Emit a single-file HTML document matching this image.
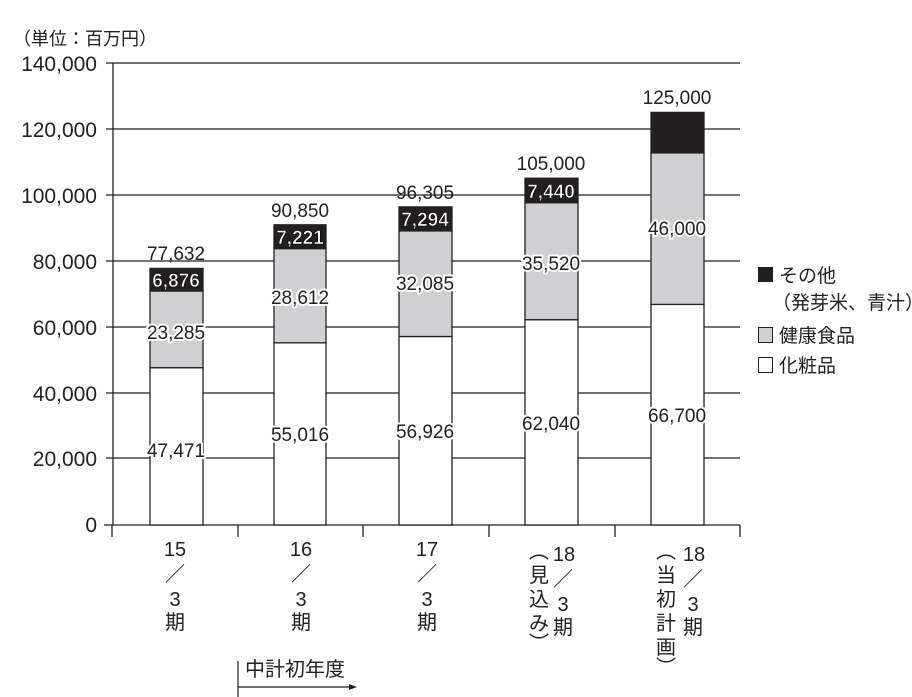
<!DOCTYPE html>
<html><head><meta charset="utf-8"><style>
html,body{margin:0;padding:0;background:#fff}
svg{display:block}
text{font-family:"Liberation Sans","Noto Sans CJK JP",sans-serif;fill:#222}
.t{font-size:21px;text-anchor:end}
.v{font-size:19px;text-anchor:middle}
.h{font-size:19px;text-anchor:middle;stroke:#fff;stroke-width:4;paint-order:stroke;stroke-linejoin:round}
.w{font-size:19px;text-anchor:middle;fill:#fff;font-weight:bold;stroke:#000;stroke-width:0.6}
.j{font-size:20px;text-anchor:middle}
.l{font-size:19px}
</style></head><body>
<svg width="912" height="697" viewBox="0 0 912 697">
<text x="13" y="45" style="font-size:18px">（単位：百万円）</text>
<g stroke="#222" stroke-width="1.3">
<line x1="106" y1="63" x2="740" y2="63"/>
<line x1="106" y1="129" x2="740" y2="129"/>
<line x1="106" y1="195" x2="740" y2="195"/>
<line x1="106" y1="261" x2="740" y2="261"/>
<line x1="106" y1="327" x2="740" y2="327"/>
<line x1="106" y1="393" x2="740" y2="393"/>
<line x1="106" y1="458" x2="740" y2="458"/>
<line x1="104" y1="525" x2="740" y2="525"/>
<line x1="113" y1="63" x2="113" y2="525"/>
<line x1="112" y1="525" x2="112" y2="537"/>
<line x1="238" y1="525" x2="238" y2="537"/>
<line x1="363" y1="525" x2="363" y2="537"/>
<line x1="489" y1="525" x2="489" y2="537"/>
<line x1="615" y1="525" x2="615" y2="537"/>
<line x1="740" y1="525" x2="740" y2="537"/>
</g>
<text class="t" x="97" y="71">140,000</text>
<text class="t" x="97" y="137">120,000</text>
<text class="t" x="97" y="203">100,000</text>
<text class="t" x="97" y="269">80,000</text>
<text class="t" x="97" y="335">60,000</text>
<text class="t" x="97" y="401">40,000</text>
<text class="t" x="97" y="466">20,000</text>
<text class="t" x="97" y="532">0</text>
<g stroke="#222" stroke-width="1.3">
<rect x="150" y="367.7" width="53" height="157.3" fill="#fff"/>
<rect x="150" y="291" width="53" height="76.7" fill="#d0d0d2"/>
<rect x="150" y="268.4" width="53" height="22.6" fill="#231f20"/>
<rect x="274" y="342.8" width="52" height="182.2" fill="#fff"/>
<rect x="274" y="248.6" width="52" height="94.2" fill="#d0d0d2"/>
<rect x="274" y="224.8" width="52" height="23.8" fill="#231f20"/>
<rect x="399" y="336.5" width="53" height="188.5" fill="#fff"/>
<rect x="399" y="230.9" width="53" height="105.6" fill="#d0d0d2"/>
<rect x="399" y="206.9" width="53" height="24" fill="#231f20"/>
<rect x="525" y="319.7" width="53" height="205.3" fill="#fff"/>
<rect x="525" y="202.7" width="53" height="117" fill="#d0d0d2"/>
<rect x="525" y="178.2" width="53" height="24.5" fill="#231f20"/>
<rect x="651" y="304.4" width="53" height="220.6" fill="#fff"/>
<rect x="651" y="152.9" width="53" height="151.5" fill="#d0d0d2"/>
<rect x="651" y="112.4" width="53" height="40.5" fill="#231f20"/>
</g>
<text class="v" x="176" y="260">77,632</text>
<text class="v" x="300" y="217">90,850</text>
<text class="v" x="425" y="199">96,305</text>
<text class="v" x="551" y="170">105,000</text>
<text class="v" x="677" y="104">125,000</text>
<text class="w" x="176" y="287">6,876</text>
<text class="w" x="300" y="244">7,221</text>
<text class="w" x="425" y="226">7,294</text>
<text class="w" x="551" y="198">7,440</text>
<text class="h" x="176" y="339">23,285</text>
<text class="h" x="300" y="304">28,612</text>
<text class="h" x="425" y="290">32,085</text>
<text class="h" x="551" y="270">35,520</text>
<text class="h" x="677" y="235">46,000</text>
<text class="h" x="176" y="457">47,471</text>
<text class="h" x="300" y="441">55,016</text>
<text class="h" x="425" y="438">56,926</text>
<text class="h" x="551" y="430">62,040</text>
<text class="h" x="677" y="422">66,700</text>
<text class="j" x="175" y="556">15</text><text class="j" x="175" y="581">／</text><text class="j" x="175" y="606">3</text><text class="j" x="175" y="629">期</text>
<text class="j" x="301" y="556">16</text><text class="j" x="301" y="581">／</text><text class="j" x="301" y="606">3</text><text class="j" x="301" y="629">期</text>
<text class="j" x="427" y="556">17</text><text class="j" x="427" y="581">／</text><text class="j" x="427" y="606">3</text><text class="j" x="427" y="629">期</text>
<text class="j" x="564" y="561">18</text><text class="j" x="563" y="586">／</text><text class="j" x="563" y="611">3</text><text class="j" x="563" y="634">期</text>
<text class="j" x="539" y="558">︵</text><text class="j" x="539" y="582">見</text><text class="j" x="539" y="606">込</text><text class="j" x="539" y="630">み</text><text class="j" x="539" y="650">︶</text>
<text class="j" x="694" y="561">18</text><text class="j" x="693" y="586">／</text><text class="j" x="693" y="611">3</text><text class="j" x="693" y="634">期</text>
<text class="j" x="666" y="558">︵</text><text class="j" x="666" y="582">当</text><text class="j" x="666" y="606">初</text><text class="j" x="666" y="630">計</text><text class="j" x="666" y="654">画</text><text class="j" x="666" y="674">︶</text>
<text class="l" x="245" y="676" style="font-size:20px">中計初年度</text>
<line x1="238" y1="661" x2="238" y2="701" stroke="#222" stroke-width="1.2"/>
<line x1="238" y1="687" x2="352" y2="687" stroke="#222" stroke-width="1.2"/>
<polygon points="357,687 349,684 349,690" fill="#222"/>
<rect x="758" y="267" width="15" height="15" fill="#231f20"/>
<text class="l" x="779" y="282">その他</text>
<text class="l" x="772" y="309">（発芽米、青汁）</text>
<rect x="758.5" y="327.5" width="14" height="15" fill="#d0d0d2" stroke="#222"/>
<text class="l" x="779" y="342">健康食品</text>
<rect x="758.5" y="357.5" width="14" height="15" fill="#fff" stroke="#222"/>
<text class="l" x="779" y="372">化粧品</text>
</svg>
</body></html>
